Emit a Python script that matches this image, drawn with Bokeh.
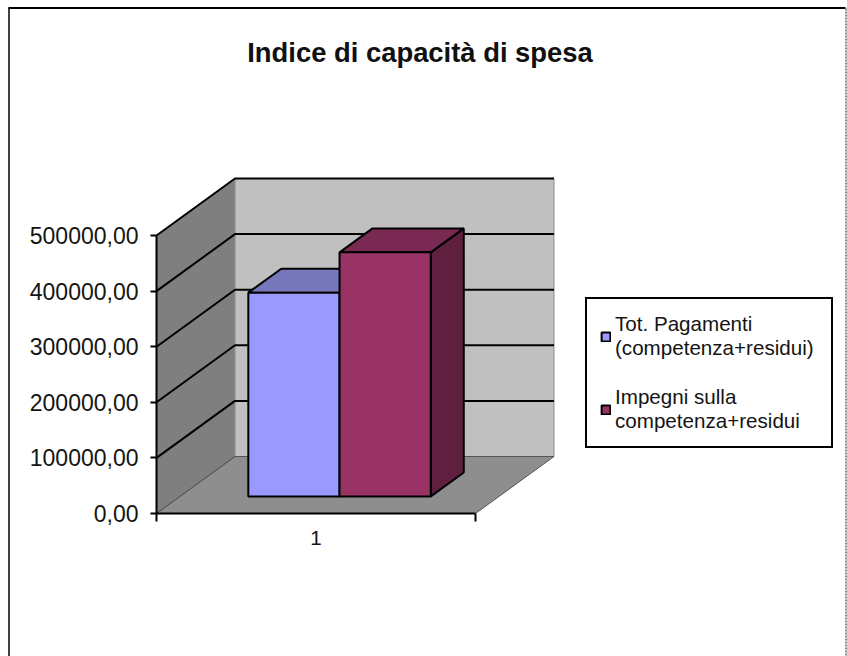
from bokeh.plotting import figure
from bokeh.models import (Range1d, LinearAxis, FixedTicker, Label, Legend, LegendItem)
from bokeh.embed import file_html
from bokeh.resources import INLINE

title = "Indice di capacità di spesa"
categories = ["1"]
series_names = ["Tot. Pagamenti\n(competenza+residui)", "Impegni sulla\ncompetenza+residui"]
series_values = [366500, 439000]
tick_values = [0, 100000, 200000, 300000, 400000, 500000]
tick_labels = ["0,00", "100000,00", "200000,00", "300000,00", "400000,00", "500000,00"]

W, H = 847, 656
X0, XW = 156, 319              # pixel of category-axis start, axis length
Y0, YU = 513, 278 / 500000
DX, DY = 78.5 / XW, 57 / YU    # full depth in data units
F = "Liberation Sans"
TXT = "#141414"

p = figure(width=W, height=H, output_backend="svg", toolbar_location=None,
           x_axis_location=None, y_axis_location=None, min_border=0,
           x_range=Range1d(-X0 / XW, (W - X0) / XW),
           y_range=Range1d(-(H - Y0) / YU, Y0 / YU))
p.grid.visible = False
p.outline_line_color = None
p.background_fill_color = "white"

def pr(x, v, d):
    return x + d * DX, v + d * DY

def poly(points, fill, line="black", w=1.5):
    xs, ys = zip(*points)
    return p.patch(list(xs), list(ys), fill_color=fill, line_color=line, line_width=w)

vmax = tick_values[-1]
# walls and floor
poly([pr(0, 0, 0), pr(0, vmax, 0), pr(0, vmax, 1), pr(0, 0, 1)], "#7f7f7f", None)
poly([pr(0, 0, 1), pr(0, vmax, 1), pr(1, vmax, 1), pr(1, 0, 1)], "#c0c0c0", "#8a8a8a", 1)
poly([pr(0, 0, 0), pr(0, 0, 1), pr(1, 0, 1), pr(1, 0, 0)], "#8e8e8e", "#555555", 1)

# gridlines on side and back walls
for v in tick_values:
    a, b, c = pr(0, v, 0), pr(0, v, 1), pr(1, v, 1)
    col = "#555555" if v == 0 else "black"
    wid = 1 if v == 0 else 2
    p.line([a[0], b[0], c[0]], [a[1], b[1], c[1]], line_color=col, line_width=wid)

# bars
GAP, D0, D1 = 0.214, 0.30, 0.72
bw = (1 - 2 * GAP) / len(series_values)
fills = [("#9999ff", "#7777bb", "#55558c"), ("#993366", "#7a2952", "#5f2040")]
front = []
for i, (val, (c1, c2, c3)) in enumerate(zip(series_values, fills)):
    l, r = GAP + i * bw, GAP + (i + 1) * bw
    poly([pr(r, 0, D0), pr(r, val, D0), pr(r, val, D1), pr(r, 0, D1)], c3, "black", 2)
    poly([pr(l, val, D0), pr(r, val, D0), pr(r, val, D1), pr(l, val, D1)], c2, "black", 2)
    x1, y1 = pr(l, 0, D0)
    x2, y2 = pr(r, val, D0)
    front.append(p.quad(left=[x1], right=[x2], bottom=[y1], top=[y2],
                        fill_color=c1, line_color="black", line_width=2))

# value axis
ya = LinearAxis(fixed_location=0, bounds=(0, vmax), ticker=FixedTicker(ticks=tick_values),
                major_label_overrides=dict(zip(tick_values, tick_labels)))
ya.axis_line_width = 2
ya.major_tick_line_width = 2
ya.major_tick_out, ya.major_tick_in = 6, 0
ya.minor_tick_out = ya.minor_tick_in = 0
ya.major_label_standoff = 12
ya.major_label_text_font = F
ya.major_label_text_font_size = "23px"
ya.major_label_text_color = TXT
p.add_layout(ya, "left")

# category axis: line with end ticks, then centred label
xa = LinearAxis(fixed_location=0, bounds=(0, 1), ticker=FixedTicker(ticks=[0, 1]),
                major_label_overrides={0: " ", 1: " "})
xa.axis_line_width = 2
xa.major_tick_line_width = 2
xa.major_tick_out, xa.major_tick_in = 8, 0
xa.minor_tick_out = xa.minor_tick_in = 0
p.add_layout(xa, "below")

xl = LinearAxis(fixed_location=0, ticker=FixedTicker(ticks=[0.5]),
                major_label_overrides={0.5: categories[0]})
xl.axis_line_color = None
xl.major_tick_line_color = None
xl.minor_tick_line_color = None
xl.major_label_standoff = 11
xl.major_label_text_font = F
xl.major_label_text_font_size = "20.6px"
xl.major_label_text_color = TXT
p.add_layout(xl, "below")

# frame of the chart area: left and top solid, right dashed
def bx(px):
    return (px - X0) / XW
def by(py):
    return (Y0 - py) / YU
p.line([bx(8.5), bx(8.5)], [by(7), by(H)], line_color="black", line_width=1.5)
p.line([bx(8), bx(845)], [by(7.5), by(7.5)], line_color="black", line_width=2)
p.line([bx(845.5), bx(845.5)], [by(8), by(H)], line_color="#666666", line_width=1.5, line_dash="2 1")

p.add_layout(Label(x=419.5, y=H - 52, x_units="screen", y_units="screen", text=title,
                   text_font=F, text_font_style="bold", text_font_size="27.4px",
                   text_color="#101010", text_align="center", text_baseline="middle"))

leg = Legend(items=[LegendItem(label=n, renderers=[r]) for n, r in zip(series_names, front)],
             location=(585, H - 448), orientation="vertical",
             border_line_color="black", border_line_width=2, border_line_alpha=1,
             background_fill_alpha=1,
             label_text_font=F, label_text_font_size="20.6px", label_text_color=TXT,
             label_text_line_height=1.3, label_width=203,
             glyph_width=11, glyph_height=11, label_standoff=4, spacing=25,
             padding=13, margin=0)
p.add_layout(leg, "center")

open("out.html", "w").write(file_html(p, INLINE))
